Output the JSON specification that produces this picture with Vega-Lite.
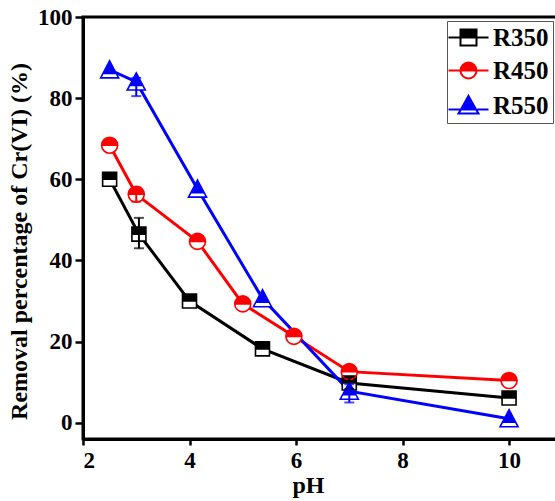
{
  "$schema": "https://vega.github.io/schema/vega-lite/v6.json",
  "autosize": "none",
  "width": 474,
  "height": 422,
  "padding": {"left": 83, "top": 17, "right": 0, "bottom": 62},
  "background": "white",
  "config": {
    "view": {"stroke": "black", "strokeWidth": 3},
    "font": "Liberation Serif",
    "axis": {
      "grid": false,
      "domainColor": "black",
      "domainWidth": 3,
      "tickColor": "black",
      "tickWidth": 2.5,
      "labelFont": "Liberation Serif",
      "labelFontWeight": "bold",
      "labelFontSize": 23,
      "labelColor": "black",
      "titleFont": "Liberation Serif",
      "titleFontWeight": "bold",
      "titleFontSize": 24,
      "titleColor": "black"
    },
    "legend": {
      "labelFont": "Liberation Serif",
      "labelFontWeight": "bold",
      "labelFontSize": 25,
      "labelColor": "black"
    }
  },
  "datasets": {
    "main": [
      {"series": "R350", "pH": 2.5, "val": 60.0},
      {"series": "R350", "pH": 3.05, "val": 46.5},
      {"series": "R350", "pH": 4.0, "val": 30.0},
      {"series": "R350", "pH": 5.37, "val": 18.2},
      {"series": "R350", "pH": 7.0, "val": 9.8},
      {"series": "R350", "pH": 10.0, "val": 6.1},
      {"series": "R450", "pH": 2.5, "val": 68.4},
      {"series": "R450", "pH": 3.0, "val": 56.3},
      {"series": "R450", "pH": 4.15, "val": 44.7},
      {"series": "R450", "pH": 5.0, "val": 29.3},
      {"series": "R450", "pH": 5.96, "val": 21.3},
      {"series": "R450", "pH": 7.0, "val": 12.6},
      {"series": "R450", "pH": 10.0, "val": 10.4},
      {"series": "R550", "pH": 2.5, "val": 87.0},
      {"series": "R550", "pH": 3.0, "val": 84.0},
      {"series": "R550", "pH": 4.15, "val": 57.6},
      {"series": "R550", "pH": 5.37, "val": 30.6},
      {"series": "R550", "pH": 7.0, "val": 7.8},
      {"series": "R550", "pH": 10.0, "val": 1.0}
    ],
    "errs": [
      {"series": "R350", "pH": 3.05, "lo": 43.0, "hi": 50.5},
      {"series": "R350", "pH": 7.0, "lo": 8.3, "hi": 11.3},
      {"series": "R450", "pH": 3.0, "lo": 54.5, "hi": 58.0},
      {"series": "R550", "pH": 3.0, "lo": 80.5, "hi": 85.0},
      {"series": "R550", "pH": 7.0, "lo": 5.0, "hi": 9.5}
    ]
  },
  "encoding": {
    "x": {
      "field": "pH", "type": "quantitative",
      "scale": {"domain": [2, 10.9], "nice": false, "zero": false},
      "axis": {"values": [2, 4, 6, 8, 10], "tickSize": 6, "labelPadding": 4, "title": "pH", "titlePadding": 1, "titleX": 225}
    },
    "y": {
      "field": "val", "type": "quantitative",
      "scale": {"domain": [-4, 100], "nice": false, "zero": false},
      "axis": {"values": [0, 20, 40, 60, 80, 100], "tickSize": 8, "labelPadding": 3, "title": "Removal percentage of Cr(VI) (%)", "titlePadding": 6, "titleY": 224}
    }
  },
  "layer": [
    {
      "data": {"name": "main"},
      "transform": [{"filter": "datum.series === 'R350'"}],
      "mark": {"type": "line", "strokeWidth": 3, "color": "#000000"}
    },
    {
      "data": {"name": "main"},
      "transform": [{"filter": "datum.series === 'R450'"}],
      "mark": {"type": "line", "strokeWidth": 3, "color": "#ff0000"}
    },
    {
      "data": {"name": "main"},
      "transform": [{"filter": "datum.series === 'R550'"}],
      "mark": {"type": "line", "strokeWidth": 3, "color": "#0000ff"}
    },
    {
      "data": {"name": "main"},
      "transform": [{"filter": "datum.series === 'R350'"}],
      "mark": {"type": "point", "filled": true, "fill": "white", "color": "white", "opacity": 1, "strokeWidth": 0, "shape": "M-1,-1H1V1H-1Z", "size": 196}
    },
    {
      "data": {"name": "main"},
      "transform": [{"filter": "datum.series === 'R450'"}],
      "mark": {"type": "point", "filled": true, "fill": "white", "color": "white", "opacity": 1, "strokeWidth": 0, "shape": "circle", "size": 256}
    },
    {
      "data": {"name": "main"},
      "transform": [{"filter": "datum.series === 'R550'"}],
      "mark": {"type": "point", "filled": true, "fill": "white", "color": "white", "opacity": 1, "strokeWidth": 0, "shape": "M0,-1L1,0.9H-1Z", "size": 324}
    },
    {
      "data": {"name": "main"},
      "transform": [{"filter": "datum.series === 'R350'"}],
      "mark": {"type": "point", "filled": true, "color": "#000000", "fill": "#000000", "stroke": "#000000", "opacity": 1, "strokeWidth": 1.6, "size": 196,
        "shape": "M-1,-1H1V0H-1ZM-1,0H1V1H-1ZM-1,0V1H1V0Z"}
    },
    {
      "data": {"name": "main"},
      "transform": [{"filter": "datum.series === 'R450'"}],
      "mark": {"type": "point", "filled": true, "color": "#ff0000", "fill": "#ff0000", "stroke": "#ff0000", "opacity": 1, "strokeWidth": 1.6, "size": 256,
        "shape": "M-1,0A1,1 0 0,1 1,0ZM-1,0H1A1,1 0 0,1 -1,0ZM-1,0A1,1 0 0,0 1,0Z"}
    },
    {
      "data": {"name": "main"},
      "transform": [{"filter": "datum.series === 'R550'"}],
      "mark": {"type": "point", "filled": true, "color": "#0000ff", "fill": "#0000ff", "stroke": "#0000ff", "opacity": 1, "strokeWidth": 1.6, "size": 324,
        "shape": "M0,-1L0.737,0.4H-0.737ZM-0.737,0.4H0.737L1,0.9H-1ZM-0.737,0.4L-1,0.9H1L0.737,0.4Z"}
    },
    {
      "data": {"name": "errs"},
      "transform": [{"filter": "datum.series === 'R350'"}],
      "mark": {"type": "errorbar", "color": "#000000", "ticks": {"size": 10, "thickness": 2}, "thickness": 2},
      "encoding": {"y": {"field": "lo", "type": "quantitative"}, "y2": {"field": "hi"}}
    },
    {
      "data": {"name": "errs"},
      "transform": [{"filter": "datum.series === 'R450'"}],
      "mark": {"type": "errorbar", "color": "#ff0000", "ticks": {"size": 10, "thickness": 2}, "thickness": 2},
      "encoding": {"y": {"field": "lo", "type": "quantitative"}, "y2": {"field": "hi"}}
    },
    {
      "data": {"name": "errs"},
      "transform": [{"filter": "datum.series === 'R550'"}],
      "mark": {"type": "errorbar", "color": "#0000ff", "ticks": {"size": 10, "thickness": 2}, "thickness": 2},
      "encoding": {"y": {"field": "lo", "type": "quantitative"}, "y2": {"field": "hi"}}
    },
    {
      "data": {"name": "main"},
      "mark": {"type": "point", "filled": true, "opacity": 0},
      "encoding": {
        "color": {
          "field": "series", "type": "nominal",
          "scale": {"domain": ["R350", "R450", "R550"], "range": ["#000000", "#ff0000", "#0000ff"]},
          "legend": {"title": null, "orient": "top-right", "offset": 4, "padding": 4, "strokeColor": "#555555", "fillColor": "white", "rowPadding": 7, "symbolOffset": 5, "labelOffset": 12, "symbolSize": 256, "symbolStrokeWidth": 2, "symbolOpacity": 1}
        },
        "stroke": {
          "field": "series", "type": "nominal",
          "scale": {"domain": ["R350", "R450", "R550"], "range": ["#000000", "#ff0000", "#0000ff"]},
          "legend": {"title": null, "orient": "top-right", "offset": 4, "padding": 4, "strokeColor": "#555555", "fillColor": "white", "rowPadding": 7, "symbolOffset": 5, "labelOffset": 12, "symbolSize": 256, "symbolStrokeWidth": 2, "symbolOpacity": 1}
        },
        "shape": {
          "field": "series", "type": "nominal",
          "scale": {"domain": ["R350", "R450", "R550"], "range": [
            "M-2.5,0H-1M1,0H2.5M-1,-1H1V0H-1ZM-1,0H1V1H-1ZM-1,0V1H1V0Z",
            "M-2.5,0H-1M1,0H2.5M-1,0A1,1 0 0,1 1,0ZM-1,0H1A1,1 0 0,1 -1,0ZM-1,0A1,1 0 0,0 1,0Z",
            "M-2.5,0.5H-1.06M1.06,0.5H2.5M0,-1.2L0.95,0.5H-0.95ZM-0.95,0.5H0.95L1.25,1H-1.25ZM-0.95,0.5L-1.25,1H1.25L0.95,0.5Z"
          ]},
          "legend": {"title": null, "orient": "top-right", "offset": 4, "padding": 4, "strokeColor": "#555555", "fillColor": "white", "rowPadding": 7, "symbolOffset": 5, "labelOffset": 12, "symbolSize": 256, "symbolStrokeWidth": 2, "symbolOpacity": 1}
        }
      }
    }
  ]
}
